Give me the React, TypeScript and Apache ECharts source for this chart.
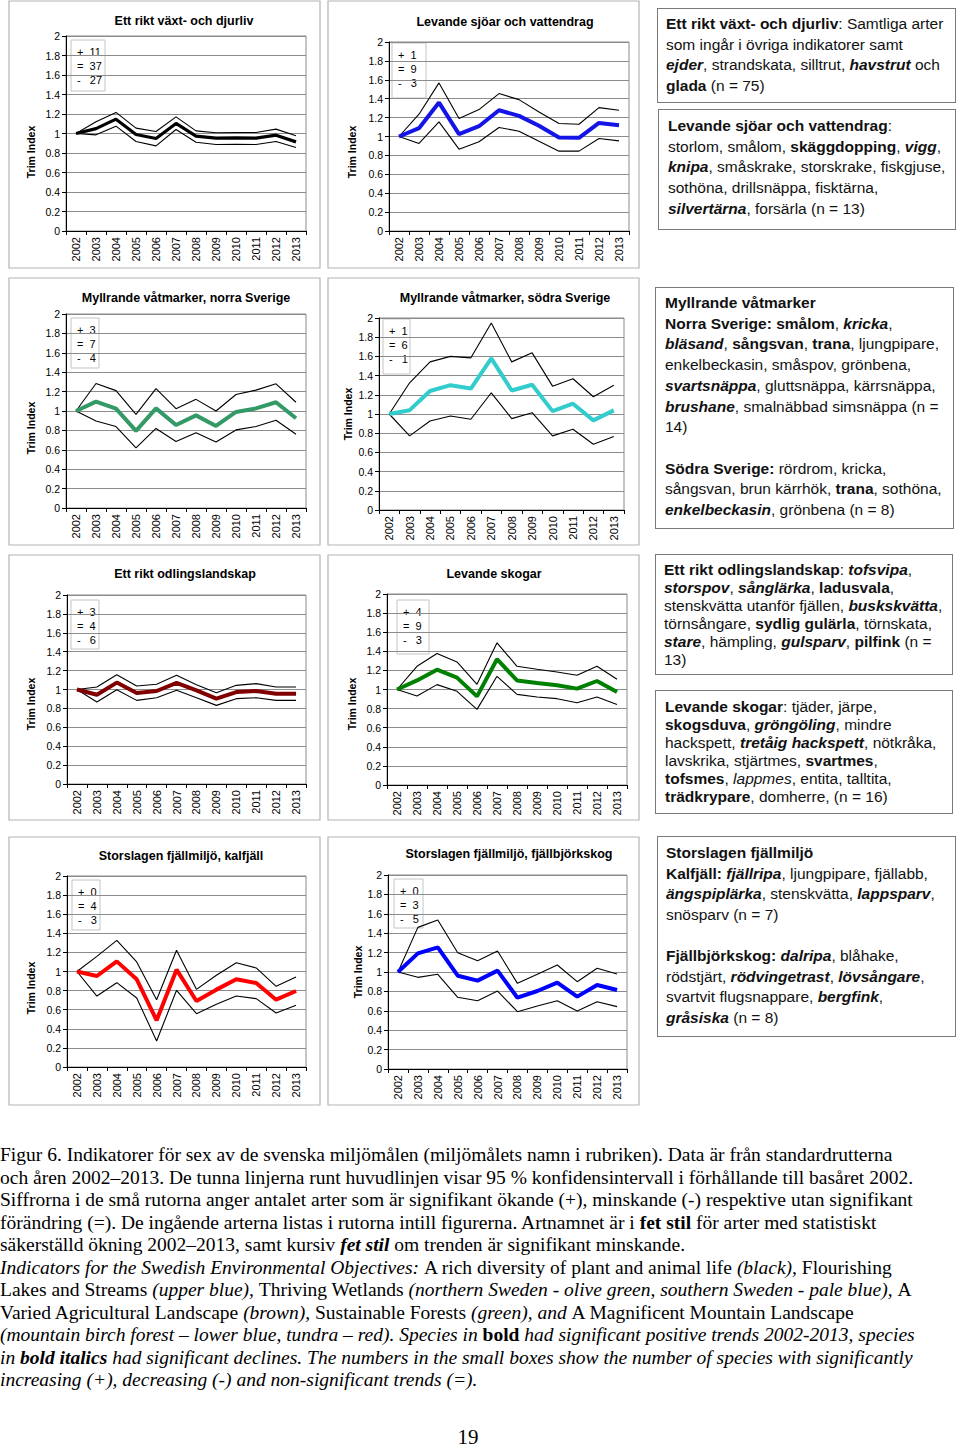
import React, { useEffect, useRef } from "react";
import * as echarts from "echarts";

const years = ["2002", "2003", "2004", "2005", "2006", "2007", "2008", "2009", "2010", "2011", "2012", "2013"];

// Ett rikt växt- och djurliv
const richMain = [1, 1.05, 1.147, 0.99, 0.949, 1.103, 0.973, 0.952, 0.955, 0.952, 0.983, 0.914];
const richUpper = [1, 1.12, 1.216, 1.055, 1.02, 1.171, 1.027, 1.007, 1.01, 1.01, 1.045, 0.976];
const richLower = [1, 0.986, 1.075, 0.918, 0.873, 1.041, 0.911, 0.887, 0.89, 0.887, 0.918, 0.856];

// Levande sjöar och vattendrag
const lakesMain = [1, 1.088, 1.359, 1.025, 1.109, 1.278, 1.218, 1.113, 0.989, 0.986, 1.144, 1.12];
const lakesUpper = [1, 1.236, 1.567, 1.19, 1.285, 1.454, 1.39, 1.26, 1.137, 1.13, 1.306, 1.278];
const lakesLower = [1, 0.926, 1.155, 0.866, 0.944, 1.095, 1.056, 0.95, 0.845, 0.845, 0.979, 0.954];

// Myllrande våtmarker, norra Sverige
const northMain = [1, 1.096, 1.024, 0.795, 1.027, 0.856, 0.955, 0.846, 0.99, 1.027, 1.09, 0.925];
const northUpper = [1, 1.284, 1.21, 0.966, 1.23, 1.024, 1.12, 1.0, 1.17, 1.215, 1.28, 1.09];
const northLower = [1, 0.897, 0.84, 0.62, 0.82, 0.685, 0.777, 0.68, 0.805, 0.84, 0.905, 0.76];

// Myllrande våtmarker, södra Sverige
const southMain = [1, 1.04, 1.24, 1.3, 1.265, 1.58, 1.245, 1.305, 1.03, 1.107, 0.934, 1.038];
const southUpper = [1, 1.325, 1.543, 1.6, 1.585, 1.948, 1.543, 1.637, 1.29, 1.367, 1.18, 1.3];
const southLower = [1, 0.772, 0.927, 0.979, 0.945, 1.221, 0.952, 1.014, 0.772, 0.841, 0.685, 0.765];

// Ett rikt odlingslandskap
const farmMain = [1, 0.945, 1.073, 0.963, 0.984, 1.069, 0.991, 0.903, 0.973, 0.984, 0.956, 0.956];
const farmUpper = [1, 1.027, 1.157, 1.037, 1.055, 1.15, 1.051, 0.966, 1.044, 1.062, 1.027, 1.027];
const farmLower = [1, 0.867, 0.998, 0.885, 0.913, 0.991, 0.913, 0.832, 0.903, 0.913, 0.885, 0.885];

// Levande skogar
const forestMain = [1, 1.095, 1.208, 1.124, 0.928, 1.317, 1.095, 1.068, 1.044, 1.009, 1.089, 0.974];
const forestUpper = [1, 1.243, 1.377, 1.289, 1.054, 1.489, 1.243, 1.212, 1.184, 1.149, 1.243, 1.107];
const forestLower = [1, 0.932, 1.051, 0.981, 0.792, 1.138, 0.949, 0.921, 0.904, 0.862, 0.921, 0.844];

// Storslagen fjällmiljö, kalfjäll
const tundraMain = [1, 0.953, 1.106, 0.918, 0.489, 1.019, 0.691, 0.81, 0.918, 0.88, 0.705, 0.796];
const tundraUpper = [1, 1.159, 1.326, 1.1, 0.705, 1.222, 0.813, 0.96, 1.092, 1.037, 0.845, 0.942];
const tundraLower = [1, 0.743, 0.883, 0.723, 0.272, 0.803, 0.558, 0.656, 0.743, 0.716, 0.565, 0.646];

// Storslagen fjällmiljö, fjällbjörkskog
const birchMain = [1, 1.192, 1.254, 0.962, 0.911, 1.014, 0.735, 0.804, 0.89, 0.746, 0.866, 0.814];
const birchUpper = [1, 1.46, 1.536, 1.199, 1.117, 1.216, 0.883, 0.976, 1.072, 0.9, 1.038, 0.979];
const birchLower = [1, 0.945, 0.976, 0.739, 0.704, 0.804, 0.591, 0.649, 0.704, 0.598, 0.694, 0.643];

const panelTitles = [
  "Ett rikt växt- och djurliv",
  "Levande sjöar och vattendrag",
  "Myllrande våtmarker, norra Sverige",
  "Myllrande våtmarker, södra Sverige",
  "Ett rikt odlingslandskap",
  "Levande skogar",
  "Storslagen fjällmiljö, kalfjäll",
  "Storslagen fjällmiljö, fjällbjörkskog",
];
const yAxisTitle = "Trim Index";
const plusCounts = [11, 1, 3, 1, 3, 4, 0, 0];
const equalCounts = [37, 9, 7, 6, 4, 9, 4, 3];
const minusCounts = [27, 3, 4, 1, 6, 3, 3, 5];
const mainSeries = [richMain, lakesMain, northMain, southMain, farmMain, forestMain, tundraMain, birchMain];
const upperSeries = [richUpper, lakesUpper, northUpper, southUpper, farmUpper, forestUpper, tundraUpper, birchUpper];
const lowerSeries = [richLower, lakesLower, northLower, southLower, farmLower, forestLower, tundraLower, birchLower];

// styles & layout
const lineColors = ["#000000", "#1414e6", "#339966", "#33cccc", "#800000", "#008000", "#ff0000", "#0000ff"];
const mainWidths = [3.2, 4, 4, 4, 4, 4, 4, 4];
const gridRects = [
  [66, 36, 240, 195],
  [389, 42, 240, 189],
  [66, 314, 240, 194],
  [379, 318, 245, 192],
  [67, 595, 239, 189],
  [387, 594, 240, 191],
  [67, 876, 239, 191],
  [388, 875, 239, 194],
];
const panelRects = [
  [9, 1, 311, 267],
  [328, 1, 311, 267],
  [9, 278, 311, 267],
  [328, 278, 311, 267],
  [9, 555, 311, 265],
  [328, 555, 311, 265],
  [9, 837, 311, 268],
  [328, 837, 311, 268],
];
const legendRects = [
  [71, 40, 34, 51],
  [392, 43, 34, 55],
  [71, 318, 28, 50],
  [383, 319, 27, 55],
  [71, 600, 28, 49],
  [397, 600, 32, 54],
  [72, 880, 28, 50],
  [394, 879, 29, 49],
];
const titlePos = [
  [184, 21],
  [505, 22],
  [186, 298],
  [505, 298],
  [185, 574],
  [494, 574],
  [181, 856],
  [509, 854],
];
const yTitlePos = [
  [31, 152],
  [352, 152],
  [31, 428],
  [348, 414],
  [31, 704],
  [352, 704],
  [31, 988],
  [358, 972],
];

const SANS = "'Liberation Sans', Arial, sans-serif";
const SERIF = "'Liberation Serif', 'Times New Roman', serif";

function buildOption() {
  const grid: any[] = [];
  const xAxis: any[] = [];
  const yAxis: any[] = [];
  const series: any[] = [];
  const graphic: any[] = [];
  for (let i = 0; i < 8; i++) {
    const [l, t, w, h] = gridRects[i];
    grid.push({ left: l, top: t, width: w, height: h, show: true, borderColor: "#8a8a8a", borderWidth: 1, backgroundColor: "transparent" });
    xAxis.push({
      gridIndex: i,
      type: "category",
      data: years,
      boundaryGap: true,
      axisLine: { lineStyle: { color: "#000", width: 1 } },
      axisTick: { show: true, length: 4, lineStyle: { color: "#000" } },
      axisLabel: { rotate: 90, fontSize: 11, color: "#000", margin: 6, fontFamily: SANS, interval: 0 },
      splitLine: { show: false },
    });
    yAxis.push({
      gridIndex: i,
      type: "value",
      min: 0,
      max: 2,
      interval: 0.2,
      axisLine: { show: true, lineStyle: { color: "#000", width: 1 } },
      axisTick: { show: true, length: 4, lineStyle: { color: "#000" } },
      axisLabel: {
        fontSize: 10.5,
        color: "#000",
        margin: 6,
        fontFamily: SANS,
        formatter: (v: number) => String(Math.round(v * 10) / 10),
      },
      splitLine: { show: true, lineStyle: { color: "#8c8c8c", width: 1 } },
    });
    const base = { type: "line", xAxisIndex: i, yAxisIndex: i, symbol: "none", silent: true };
    series.push({ ...base, name: "upper" + i, data: upperSeries[i], lineStyle: { color: "#000", width: 1.1 }, z: 2 });
    series.push({ ...base, name: "lower" + i, data: lowerSeries[i], lineStyle: { color: "#000", width: 1.1 }, z: 2 });
    series.push({ ...base, name: "main" + i, data: mainSeries[i], lineStyle: { color: lineColors[i], width: mainWidths[i] }, z: 3 });

    const [px, py, pw, ph] = panelRects[i];
    graphic.push({ type: "rect", shape: { x: px, y: py, width: pw, height: ph }, style: { fill: "none", stroke: "#b4b4b4", lineWidth: 1.2 }, silent: true });
    const [lx, ly, lw, lh] = legendRects[i];
    graphic.push({ type: "rect", shape: { x: lx, y: ly, width: lw, height: lh }, style: { fill: "#fff", stroke: "#c4c4c4", lineWidth: 1 }, silent: true });
    const rows = ["+  " + plusCounts[i], "=  " + equalCounts[i], "-   " + minusCounts[i]];
    rows.forEach((txt, k) => {
      graphic.push({
        type: "text",
        x: lx + 6,
        y: ly + 12 + k * 14,
        style: { text: txt, fontSize: 11, fontFamily: SANS, fill: "#000", align: "left", verticalAlign: "middle" },
        silent: true,
      });
    });
    const [tx, ty] = titlePos[i];
    graphic.push({
      type: "text",
      x: tx,
      y: ty,
      style: { text: panelTitles[i], fontSize: 12.5, fontWeight: "bold", fontFamily: SANS, fill: "#000", align: "center", verticalAlign: "middle" },
      silent: true,
    });
    const [yx, yy] = yTitlePos[i];
    graphic.push({
      type: "text",
      x: yx,
      y: yy,
      rotation: Math.PI / 2,
      style: { text: yAxisTitle, fontSize: 10.5, fontWeight: "bold", fontFamily: SANS, fill: "#000", align: "center", verticalAlign: "middle" },
      silent: true,
    });
  }
  return { animation: false, backgroundColor: "#fff", grid, xAxis, yAxis, series, graphic };
}

const boxStyle = (left: number, top: number, right: number, bottom: number, lh: number, padL: number, padT: number): React.CSSProperties => ({
  position: "absolute",
  left,
  top,
  width: right - left,
  height: bottom - top,
  boxSizing: "border-box",
  border: "1.5px solid #7a7a7a",
  paddingLeft: padL,
  paddingTop: padT,
  fontFamily: SANS,
  fontSize: 15.5,
  lineHeight: lh + "px",
  color: "#111",
  whiteSpace: "nowrap",
  background: "#fff",
});

const B = ({ children }: any) => <b>{children}</b>;
const BI = ({ children }: any) => (
  <b>
    <i>{children}</i>
  </b>
);

export default function App() {
  const ref = useRef<HTMLDivElement>(null);
  useEffect(() => {
    if (!ref.current) return;
    const chart = echarts.init(ref.current, null, { renderer: "svg" });
    chart.setOption(buildOption() as any);
    return () => chart.dispose();
  }, []);
  return (
    <div style={{ position: "absolute", left: 0, top: 0, width: 960, height: 1448, background: "#fff", overflow: "hidden" }}>
      <div ref={ref} style={{ position: "absolute", left: 0, top: 0, width: 960, height: 1448 }} />

      <div style={boxStyle(657, 8, 956, 103, 20.7, 8, 5)}>
        <B>Ett rikt växt- och djurliv</B>: Samtliga arter
        <br />
        som ingår i övriga indikatorer samt
        <br />
        <BI>ejder</BI>, strandskata, silltrut, <BI>havstrut</BI> och
        <br />
        <B>glada</B> (n = 75)
      </div>
      <div style={boxStyle(658, 109, 956, 230, 20.7, 9, 6)}>
        <B>Levande sjöar och vattendrag</B>:
        <br />
        storlom, smålom, <B>skäggdopping</B>, <BI>vigg</BI>,
        <br />
        <BI>knipa</BI>, småskrake, storskrake, fiskgjuse,
        <br />
        sothöna, drillsnäppa, fisktärna,
        <br />
        <BI>silvertärna</BI>, forsärla (n = 13)
      </div>
      <div style={boxStyle(655, 287, 954, 529, 20.7, 9, 5)}>
        <B>Myllrande våtmarker</B>
        <br />
        <B>Norra Sverige: smålom</B>, <BI>kricka</BI>,
        <br />
        <BI>bläsand</BI>, <B>sångsvan</B>, <B>trana</B>, ljungpipare,
        <br />
        enkelbeckasin, småspov, grönbena,
        <br />
        <BI>svartsnäppa</BI>, gluttsnäppa, kärrsnäppa,
        <br />
        <BI>brushane</BI>, smalnäbbad simsnäppa (n =
        <br />
        14)
        <br />
        <br />
        <B>Södra Sverige:</B> rördrom, kricka,
        <br />
        sångsvan, brun kärrhök, <B>trana</B>, sothöna,
        <br />
        <BI>enkelbeckasin</BI>, grönbena (n = 8)
      </div>
      <div style={boxStyle(655, 554, 953, 675, 18, 8, 6)}>
        <B>Ett rikt odlingslandskap</B>: <BI>tofsvipa</BI>,
        <br />
        <BI>storspov</BI>, <BI>sånglärka</BI>, <B>ladusvala</B>,
        <br />
        stenskvätta utanför fjällen, <BI>buskskvätta</BI>,
        <br />
        törnsångare, <B>sydlig gulärla</B>, törnskata,
        <br />
        <BI>stare</BI>, hämpling, <BI>gulsparv</BI>, <B>pilfink</B> (n =
        <br />
        13)
      </div>
      <div style={boxStyle(655, 690, 953, 814, 18, 9, 7)}>
        <B>Levande skogar</B>: tjäder, järpe,
        <br />
        <B>skogsduva</B>, <BI>gröngöling</BI>, mindre
        <br />
        hackspett, <BI>tretåig hackspett</BI>, nötkråka,
        <br />
        lavskrika, stjärtmes, <B>svartmes</B>,
        <br />
        <B>tofsmes</B>, <i>lappmes</i>, entita, talltita,
        <br />
        <B>trädkrypare</B>, domherre, (n = 16)
      </div>
      <div style={boxStyle(657, 836, 956, 1037, 20.6, 8, 6)}>
        <B>Storslagen fjällmiljö</B>
        <br />
        <B>Kalfjäll: </B>
        <BI>fjällripa</BI>, ljungpipare, fjällabb,
        <br />
        <BI>ängspiplärka</BI>, stenskvätta, <BI>lappsparv</BI>,
        <br />
        snösparv (n = 7)
        <br />
        <br />
        <B>Fjällbjörkskog: </B>
        <BI>dalripa</BI>, blåhake,
        <br />
        rödstjärt, <BI>rödvingetrast</BI>, <BI>lövsångare</BI>,
        <br />
        svartvit flugsnappare, <BI>bergfink</BI>,
        <br />
        <BI>gråsiska</BI> (n = 8)
      </div>

      <div
        style={{
          position: "absolute",
          left: 0,
          top: 1144,
          fontFamily: SERIF,
          fontSize: 19.5,
          lineHeight: "22.5px",
          color: "#000",
          whiteSpace: "nowrap",
        }}
      >
        Figur 6. Indikatorer för sex av de svenska miljömålen (miljömålets namn i rubriken). Data är från standardrutterna
        <br />
        och åren 2002–2013. De tunna linjerna runt huvudlinjen visar 95 % konfidensintervall i förhållande till basåret 2002.
        <br />
        Siffrorna i de små rutorna anger antalet arter som är signifikant ökande (+), minskande (-) respektive utan signifikant
        <br />
        förändring (=). De ingående arterna listas i rutorna intill figurerna. Artnamnet är i <b>fet stil</b> för arter med statistiskt
        <br />
        säkerställd ökning 2002–2013, samt kursiv{" "}
        <b>
          <i>fet stil</i>
        </b>{" "}
        om trenden är signifikant minskande.
        <br />
        <i>Indicators for the Swedish Environmental Objectives: </i>A rich diversity of plant and animal life <i>(black), </i>Flourishing
        <br />
        Lakes and Streams <i>(upper blue), </i>Thriving Wetlands <i>(northern Sweden - olive green, southern Sweden - pale blue), </i>A
        <br />
        Varied Agricultural Landscape <i>(brown), </i>Sustainable Forests <i>(green), and </i>A Magnificent Mountain Landscape
        <br />
        <i>(mountain birch forest – lower blue, tundra – red). Species in </i>
        <b>bold</b>
        <i> had significant positive trends 2002-2013, species</i>
        <br />
        <i>in </i>
        <b>
          <i>bold italics</i>
        </b>
        <i> had significant declines. The numbers in the small boxes show the number of species with significantly</i>
        <br />
        <i>increasing (+), decreasing (-) and non-significant trends (=).</i>
      </div>
      <div
        style={{
          position: "absolute",
          left: 448,
          top: 1424,
          width: 40,
          textAlign: "center",
          fontFamily: SERIF,
          fontSize: 21,
          lineHeight: "26px",
          color: "#000",
        }}
      >
        19
      </div>
    </div>
  );
}
